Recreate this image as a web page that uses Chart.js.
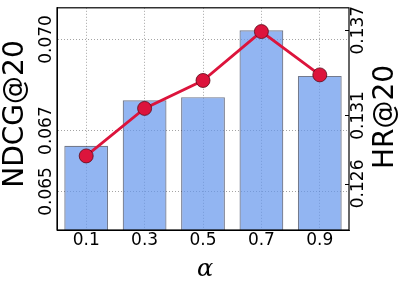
<!DOCTYPE html>
<html>
<head>
<meta charset="utf-8">
<script src="https://cdn.jsdelivr.net/npm/chart.js@4"></script>
<style>
  html, body { margin: 0; padding: 0; background: #fff; }
</style>
</head>
<body>
<canvas id="chart" width="407" height="288"></canvas>
<script>
// valores
const alphas = ["0.1", "0.3", "0.5", "0.7", "0.9"];
const ndcg = [0.0665, 0.0680, 0.0681, 0.0703, 0.0688];
const hr = [0.1280, 0.1314, 0.1334, 0.1369, 0.1338];
const ndcgTicks = [0.065, 0.067, 0.070];
const hrTicks = [0.1260, 0.1309, 0.1370];

const fonte = "DejaVu Sans";

// desenha textos rotacionados, caixa e marcas
const extras = {
  id: "extras",
  afterDraw(chart) {
    const ctx = chart.ctx;
    const area = chart.chartArea;
    const sx = chart.scales.x;
    const sy = chart.scales.y;
    const sy2 = chart.scales.y2;

    const textoVertical = (txt, x, y, font) => {
      ctx.save();
      ctx.translate(x, y);
      ctx.rotate(-Math.PI / 2);
      ctx.font = font;
      ctx.fillStyle = "#000";
      ctx.textAlign = "center";
      ctx.textBaseline = "middle";
      ctx.fillText(txt, 0, 0);
      ctx.restore();
    };

    ndcgTicks.forEach((v) => {
      textoVertical(v.toFixed(3), area.left - 10, sy.getPixelForValue(v), `17px '${fonte}'`);
    });
    hrTicks.forEach((v) => {
      const y = sy2.getPixelForValue(v);
      textoVertical(v.toFixed(3), area.right + 10, y, `17px '${fonte}'`);
      ctx.save();
      ctx.strokeStyle = "#000";
      ctx.lineWidth = 1;
      ctx.beginPath();
      ctx.moveTo(area.right, Math.round(y) + 0.5);
      ctx.lineTo(area.right - 4, Math.round(y) + 0.5);
      ctx.stroke();
      ctx.restore();
    });

    textoVertical("NDCG@20", 16, 114, `28px '${fonte}'`);
    textoVertical("HR@20", 386, 117, `28px '${fonte}'`);

    ctx.save();
    ctx.font = `17px '${fonte}'`;
    ctx.fillStyle = "#000";
    ctx.textAlign = "center";
    ctx.textBaseline = "middle";
    alphas.forEach((a, i) => {
      ctx.fillText(a, sx.getPixelForValue(i), area.bottom + 11);
    });
    ctx.font = `italic 24px 'DejaVu Serif'`;
    ctx.fillText("α", (area.left + area.right) / 2 + 2, area.bottom + 40);
    ctx.restore();

    // caixa do gráfico
    ctx.save();
    ctx.strokeStyle = "#000";
    ctx.lineWidth = 1.2;
    ctx.strokeRect(area.left, area.top, area.right - area.left, area.bottom - area.top);
    ctx.restore();
  },
};

const gradeTracejada = {
  color: "rgba(0,0,0,0.45)",
  lineWidth: 0.8,
  drawTicks: false,
};

new Chart(document.getElementById("chart"), {
  data: {
    labels: alphas,
    datasets: [
      {
        type: "line",
        data: hr,
        yAxisID: "y2",
        order: 0,
        borderColor: "rgb(220,20,60)",
        borderWidth: 2.8,
        pointRadius: 7,
        pointBackgroundColor: "rgb(220,20,60)",
        pointBorderColor: "rgb(90,10,25)",
        pointBorderWidth: 0.8,
      },
      {
        type: "bar",
        data: ndcg,
        yAxisID: "y",
        order: 1,
        backgroundColor: "rgba(100,149,237,0.7)",
        borderColor: "rgba(40,50,80,0.65)",
        borderWidth: 1.2,
        barPercentage: 0.75,
        categoryPercentage: 1,
      },
    ],
  },
  options: {
    responsive: false,
    animation: false,
    layout: { padding: { left: 57, right: 58, top: 2, bottom: 58 } },
    plugins: { legend: { display: false }, tooltip: { enabled: false } },
    scales: {
      x: {
        offset: true,
        grid: { ...gradeTracejada, offset: false },
        border: { display: true, color: "#000", dash: [1, 2] },
        ticks: { display: false },
      },
      y: {
        position: "left",
        min: 0.06373,
        max: 0.07104,
        afterBuildTicks: (axis) => {
          axis.ticks = ndcgTicks.map((v) => ({ value: v }));
        },
        grid: gradeTracejada,
        border: { display: true, color: "#000", dash: [1, 2] },
        ticks: { display: false },
      },
      y2: {
        position: "right",
        min: 0.1227,
        max: 0.1386,
        afterBuildTicks: (axis) => {
          axis.ticks = hrTicks.map((v) => ({ value: v }));
        },
        grid: { drawOnChartArea: false, drawTicks: false },
        border: { display: false },
        ticks: { display: false },
      },
    },
  },
  plugins: [extras],
});
</script>
</body>
</html>
